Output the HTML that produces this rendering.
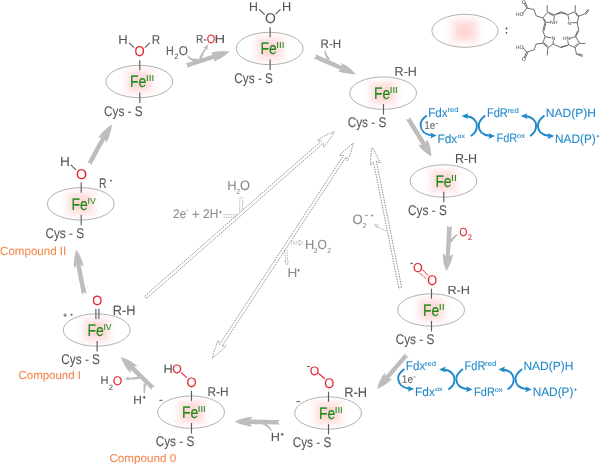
<!DOCTYPE html>
<html><head><meta charset="utf-8"><style>
html,body{margin:0;padding:0;background:#fff;width:600px;height:464px;overflow:hidden}
svg{display:block;will-change:transform}
text{font-family:"Liberation Sans",sans-serif;text-rendering:geometricPrecision}
</style></head><body>
<svg width="600" height="464" viewBox="0 0 600 464">
<defs>
<clipPath id="ec"><ellipse cx="0" cy="0" rx="33.4" ry="16.2"/></clipPath>
<filter id="bl" x="-100%" y="-100%" width="300%" height="300%"><feGaussianBlur stdDeviation="5"/></filter>
<linearGradient id="gt" gradientUnits="userSpaceOnUse" x1="0" y1="0" x2="0" y2="-18"><stop offset="0" stop-color="#ffcaca"/><stop offset="0.45" stop-color="#ffe0e0"/><stop offset="1" stop-color="#fff" stop-opacity="0"/></linearGradient>
<linearGradient id="gb" gradientUnits="userSpaceOnUse" x1="0" y1="0" x2="0" y2="18" href="#gt"/>
<linearGradient id="gl" gradientUnits="userSpaceOnUse" x1="0" y1="0" x2="-20.5" y2="0" href="#gt"/>
<linearGradient id="gr" gradientUnits="userSpaceOnUse" x1="0" y1="0" x2="20.5" y2="0" href="#gt"/>
<filter id="b2" x="-30%" y="-30%" width="160%" height="160%"><feGaussianBlur stdDeviation="2.4"/></filter>
<g id="pk" filter="url(#b2)"><path d="M0,0 L-20.5,-18 L20.5,-18Z" fill="url(#gt)"/><path d="M0,0 L20.5,18 L-20.5,18Z" fill="url(#gb)"/><path d="M0,0 L-20.5,18 L-20.5,-18Z" fill="url(#gl)"/><path d="M0,0 L20.5,-18 L20.5,18Z" fill="url(#gr)"/></g>
</defs>
<g clip-path="url(#ec)" transform="translate(139.35,81.5)"><use href="#pk"/></g>
<ellipse cx="139.35" cy="81.5" rx="33.4" ry="16.2" fill="none" stroke="#a8a8a8" stroke-width="0.9"/>
<text x="130.1" y="87.3" font-size="16.59" fill="#1a8c1a" textLength="16.3" lengthAdjust="spacingAndGlyphs" stroke="#1a8c1a" stroke-width="0.15">Fe</text>
<text x="146.0" y="81.3" font-size="8.84" fill="#1a8c1a" textLength="8.1" lengthAdjust="spacingAndGlyphs" stroke="#1a8c1a" stroke-width="0.05">III</text>
<line x1="139.8" y1="92.4" x2="139.8" y2="102.9" stroke="#5c5c5c" stroke-width="1.15"/>
<text x="104.0" y="115.7" font-size="14.14" fill="#555555" textLength="38.7" lengthAdjust="spacingAndGlyphs" stroke="#555555" stroke-width="0.08">Cys - S</text>
<line x1="139.8" y1="60.2" x2="139.8" y2="70.3" stroke="#5c5c5c" stroke-width="1.15"/>
<g clip-path="url(#ec)" transform="translate(269.7,48.5)"><use href="#pk"/></g>
<ellipse cx="269.7" cy="48.5" rx="33.4" ry="16.2" fill="none" stroke="#a8a8a8" stroke-width="0.9"/>
<text x="260.5" y="54.4" font-size="16.59" fill="#1a8c1a" textLength="16.3" lengthAdjust="spacingAndGlyphs" stroke="#1a8c1a" stroke-width="0.15">Fe</text>
<text x="276.3" y="48.3" font-size="8.84" fill="#1a8c1a" textLength="8.1" lengthAdjust="spacingAndGlyphs" stroke="#1a8c1a" stroke-width="0.05">III</text>
<line x1="270.1" y1="59.4" x2="270.1" y2="69.9" stroke="#5c5c5c" stroke-width="1.15"/>
<text x="234.3" y="82.7" font-size="14.14" fill="#555555" textLength="38.7" lengthAdjust="spacingAndGlyphs" stroke="#555555" stroke-width="0.08">Cys - S</text>
<line x1="270.1" y1="27.2" x2="270.1" y2="37.3" stroke="#5c5c5c" stroke-width="1.15"/>
<g clip-path="url(#ec)" transform="translate(383.1,93.15)"><use href="#pk"/></g>
<ellipse cx="383.1" cy="93.15" rx="33.4" ry="16.2" fill="none" stroke="#a8a8a8" stroke-width="0.9"/>
<text x="373.9" y="99.0" font-size="16.59" fill="#1a8c1a" textLength="16.3" lengthAdjust="spacingAndGlyphs" stroke="#1a8c1a" stroke-width="0.15">Fe</text>
<text x="389.7" y="93.0" font-size="8.84" fill="#1a8c1a" textLength="8.1" lengthAdjust="spacingAndGlyphs" stroke="#1a8c1a" stroke-width="0.05">III</text>
<line x1="383.5" y1="104.1" x2="383.5" y2="114.6" stroke="#5c5c5c" stroke-width="1.15"/>
<text x="347.7" y="127.4" font-size="14.14" fill="#555555" textLength="38.7" lengthAdjust="spacingAndGlyphs" stroke="#555555" stroke-width="0.08">Cys - S</text>
<g clip-path="url(#ec)" transform="translate(443.45,180.95)"><use href="#pk"/></g>
<ellipse cx="443.45" cy="180.95" rx="33.4" ry="16.2" fill="none" stroke="#a8a8a8" stroke-width="0.9"/>
<text x="435.4" y="186.8" font-size="16.59" fill="#1a8c1a" textLength="16.2" lengthAdjust="spacingAndGlyphs" stroke="#1a8c1a" stroke-width="0.15">Fe</text>
<text x="451.1" y="180.8" font-size="8.84" fill="#1a8c1a" textLength="5.9" lengthAdjust="spacingAndGlyphs" stroke="#1a8c1a" stroke-width="0.05">II</text>
<line x1="443.8" y1="191.8" x2="443.8" y2="202.3" stroke="#5c5c5c" stroke-width="1.15"/>
<text x="408.1" y="215.1" font-size="14.14" fill="#555555" textLength="38.7" lengthAdjust="spacingAndGlyphs" stroke="#555555" stroke-width="0.08">Cys - S</text>
<g clip-path="url(#ec)" transform="translate(431.1,310.0)"><use href="#pk"/></g>
<ellipse cx="431.1" cy="310.0" rx="33.4" ry="16.2" fill="none" stroke="#a8a8a8" stroke-width="0.9"/>
<text x="423.1" y="315.9" font-size="16.59" fill="#1a8c1a" textLength="16.2" lengthAdjust="spacingAndGlyphs" stroke="#1a8c1a" stroke-width="0.15">Fe</text>
<text x="438.7" y="309.8" font-size="8.84" fill="#1a8c1a" textLength="5.9" lengthAdjust="spacingAndGlyphs" stroke="#1a8c1a" stroke-width="0.05">II</text>
<line x1="431.5" y1="320.9" x2="431.5" y2="331.4" stroke="#5c5c5c" stroke-width="1.15"/>
<text x="395.7" y="344.2" font-size="14.14" fill="#555555" textLength="38.7" lengthAdjust="spacingAndGlyphs" stroke="#555555" stroke-width="0.08">Cys - S</text>
<line x1="431.5" y1="288.7" x2="431.5" y2="298.8" stroke="#5c5c5c" stroke-width="1.15"/>
<g clip-path="url(#ec)" transform="translate(328.1,413.0)"><use href="#pk"/></g>
<ellipse cx="328.1" cy="413.0" rx="33.4" ry="16.2" fill="none" stroke="#a8a8a8" stroke-width="0.9"/>
<text x="318.9" y="418.9" font-size="16.59" fill="#1a8c1a" textLength="16.3" lengthAdjust="spacingAndGlyphs" stroke="#1a8c1a" stroke-width="0.15">Fe</text>
<text x="334.7" y="412.8" font-size="8.84" fill="#1a8c1a" textLength="8.1" lengthAdjust="spacingAndGlyphs" stroke="#1a8c1a" stroke-width="0.05">III</text>
<line x1="328.5" y1="423.9" x2="328.5" y2="434.4" stroke="#5c5c5c" stroke-width="1.15"/>
<text x="292.7" y="447.2" font-size="14.14" fill="#555555" textLength="38.7" lengthAdjust="spacingAndGlyphs" stroke="#555555" stroke-width="0.08">Cys - S</text>
<line x1="328.5" y1="391.7" x2="328.5" y2="401.8" stroke="#5c5c5c" stroke-width="1.15"/>
<g clip-path="url(#ec)" transform="translate(191.1,412.15)"><use href="#pk"/></g>
<ellipse cx="191.1" cy="412.15" rx="33.4" ry="16.2" fill="none" stroke="#a8a8a8" stroke-width="0.9"/>
<text x="181.9" y="418.0" font-size="16.59" fill="#1a8c1a" textLength="16.3" lengthAdjust="spacingAndGlyphs" stroke="#1a8c1a" stroke-width="0.15">Fe</text>
<text x="197.7" y="411.9" font-size="8.84" fill="#1a8c1a" textLength="8.1" lengthAdjust="spacingAndGlyphs" stroke="#1a8c1a" stroke-width="0.05">III</text>
<line x1="191.5" y1="423.0" x2="191.5" y2="433.5" stroke="#5c5c5c" stroke-width="1.15"/>
<text x="155.7" y="446.3" font-size="14.14" fill="#555555" textLength="38.7" lengthAdjust="spacingAndGlyphs" stroke="#555555" stroke-width="0.08">Cys - S</text>
<line x1="191.5" y1="390.8" x2="191.5" y2="400.9" stroke="#5c5c5c" stroke-width="1.15"/>
<g clip-path="url(#ec)" transform="translate(96.7,330.0)"><use href="#pk"/></g>
<ellipse cx="96.7" cy="330.0" rx="33.4" ry="16.2" fill="none" stroke="#a8a8a8" stroke-width="0.9"/>
<text x="87.5" y="335.9" font-size="16.59" fill="#1a8c1a" textLength="16.3" lengthAdjust="spacingAndGlyphs" stroke="#1a8c1a" stroke-width="0.15">Fe</text>
<text x="103.4" y="329.8" font-size="8.84" fill="#1a8c1a" textLength="8.2" lengthAdjust="spacingAndGlyphs" stroke="#1a8c1a" stroke-width="0.05">IV</text>
<line x1="97.1" y1="340.9" x2="97.1" y2="351.4" stroke="#5c5c5c" stroke-width="1.15"/>
<text x="61.3" y="364.2" font-size="14.14" fill="#555555" textLength="38.7" lengthAdjust="spacingAndGlyphs" stroke="#555555" stroke-width="0.08">Cys - S</text>
<g clip-path="url(#ec)" transform="translate(80.8,203.85)"><use href="#pk"/></g>
<ellipse cx="80.8" cy="203.85" rx="33.4" ry="16.2" fill="none" stroke="#a8a8a8" stroke-width="0.9"/>
<text x="71.6" y="209.7" font-size="16.59" fill="#1a8c1a" textLength="16.3" lengthAdjust="spacingAndGlyphs" stroke="#1a8c1a" stroke-width="0.15">Fe</text>
<text x="87.5" y="203.7" font-size="8.84" fill="#1a8c1a" textLength="8.2" lengthAdjust="spacingAndGlyphs" stroke="#1a8c1a" stroke-width="0.05">IV</text>
<line x1="81.2" y1="214.8" x2="81.2" y2="225.2" stroke="#5c5c5c" stroke-width="1.15"/>
<text x="45.4" y="238.1" font-size="14.14" fill="#555555" textLength="38.7" lengthAdjust="spacingAndGlyphs" stroke="#555555" stroke-width="0.08">Cys - S</text>
<line x1="81.2" y1="182.5" x2="81.2" y2="192.7" stroke="#5c5c5c" stroke-width="1.15"/>
<text x="118.3" y="43.8" font-size="12.75" fill="#555555" textLength="9.4" lengthAdjust="spacingAndGlyphs" stroke="#555555" stroke-width="0.08">H</text>
<text x="151.8" y="43.8" font-size="12.75" fill="#555555" textLength="8.4" lengthAdjust="spacingAndGlyphs" stroke="#555555" stroke-width="0.08">R</text>
<text x="134.4" y="56.4" font-size="14.29" fill="#e2242b" textLength="10.2" lengthAdjust="spacingAndGlyphs" stroke="#e2242b" stroke-width="0.08">O</text>
<line x1="129.1" y1="42.8" x2="134.0" y2="47.7" stroke="#5c5c5c" stroke-width="1.15"/>
<line x1="144.9" y1="47.7" x2="149.8" y2="42.9" stroke="#5c5c5c" stroke-width="1.15"/>
<text x="249.0" y="10.5" font-size="12.75" fill="#555555" textLength="8.9" lengthAdjust="spacingAndGlyphs" stroke="#555555" stroke-width="0.08">H</text>
<text x="281.9" y="10.5" font-size="12.75" fill="#555555" textLength="9.2" lengthAdjust="spacingAndGlyphs" stroke="#555555" stroke-width="0.08">H</text>
<text x="265.1" y="23.3" font-size="14.14" fill="#555555" textLength="10.8" lengthAdjust="spacingAndGlyphs" stroke="#555555" stroke-width="0.08">O</text>
<line x1="259.2" y1="9.3" x2="264.7" y2="14.7" stroke="#5c5c5c" stroke-width="1.15"/>
<line x1="275.6" y1="14.2" x2="280.5" y2="9.3" stroke="#5c5c5c" stroke-width="1.15"/>
<text x="394.6" y="75.5" font-size="13.04" fill="#555555" textLength="22.3" lengthAdjust="spacingAndGlyphs" stroke="#555555" stroke-width="0.08">R-H</text>
<text x="454.9" y="163.4" font-size="13.19" fill="#555555" textLength="22.2" lengthAdjust="spacingAndGlyphs" stroke="#555555" stroke-width="0.08">R-H</text>
<text x="413.0" y="271.6" font-size="12.86" fill="#e2242b" textLength="9.7" lengthAdjust="spacingAndGlyphs" stroke="#e2242b" stroke-width="0.08">O</text>
<text x="427.2" y="284.8" font-size="14.0" fill="#e2242b" textLength="9.9" lengthAdjust="spacingAndGlyphs" stroke="#e2242b" stroke-width="0.08">O</text>
<line x1="410.2" y1="263.3" x2="413.0" y2="263.3" stroke="#555555" stroke-width="1.0"/>
<line x1="422.2" y1="269.4" x2="428.2" y2="275.6" stroke="#e2242b" stroke-width="1.0"/>
<line x1="419.6" y1="273.0" x2="426.0" y2="278.6" stroke="#e2242b" stroke-width="1.1" stroke-dasharray="0.9 1.0"/>
<text x="447.4" y="293.7" font-size="11.74" fill="#555555" textLength="22.6" lengthAdjust="spacingAndGlyphs" stroke="#555555" stroke-width="0.08">R-H</text>
<text x="309.7" y="374.6" font-size="12.29" fill="#e2242b" textLength="9.5" lengthAdjust="spacingAndGlyphs" stroke="#e2242b" stroke-width="0.08">O</text>
<text x="324.3" y="387.8" font-size="14.0" fill="#e2242b" textLength="10.0" lengthAdjust="spacingAndGlyphs" stroke="#e2242b" stroke-width="0.08">O</text>
<line x1="307.1" y1="366.5" x2="309.7" y2="366.5" stroke="#555555" stroke-width="1.0"/>
<line x1="318.3" y1="373.3" x2="324.9" y2="378.7" stroke="#e2242b" stroke-width="1.1"/>
<text x="344.3" y="396.7" font-size="13.62" fill="#555555" textLength="22.8" lengthAdjust="spacingAndGlyphs" stroke="#555555" stroke-width="0.08">R-H</text>
<line x1="296.4" y1="401.6" x2="300.0" y2="401.6" stroke="#555555" stroke-width="1.0"/>
<text x="163.4" y="373.1" font-size="12.17" fill="#555555" textLength="9.3" lengthAdjust="spacingAndGlyphs" stroke="#555555" stroke-width="0.08">H</text>
<text x="172.3" y="373.3" font-size="12.29" fill="#e2242b" textLength="9.5" lengthAdjust="spacingAndGlyphs" stroke="#e2242b" stroke-width="0.08">O</text>
<text x="186.5" y="386.7" font-size="13.71" fill="#e2242b" textLength="10.1" lengthAdjust="spacingAndGlyphs" stroke="#e2242b" stroke-width="0.08">O</text>
<line x1="181.3" y1="372.7" x2="186.7" y2="377.6" stroke="#e2242b" stroke-width="1.1"/>
<text x="207.4" y="396.0" font-size="12.61" fill="#555555" textLength="21.1" lengthAdjust="spacingAndGlyphs" stroke="#555555" stroke-width="0.08">R-H</text>
<line x1="159.3" y1="400.3" x2="162.7" y2="400.3" stroke="#555555" stroke-width="1.0"/>
<text x="92.3" y="304.7" font-size="13.43" fill="#e2242b" textLength="10.0" lengthAdjust="spacingAndGlyphs" stroke="#e2242b" stroke-width="0.08">O</text>
<line x1="95.9" y1="308.7" x2="95.9" y2="319.0" stroke="#5c5c5c" stroke-width="1.15"/>
<line x1="98.9" y1="308.7" x2="98.9" y2="319.0" stroke="#5c5c5c" stroke-width="1.15"/>
<text x="112.7" y="314.7" font-size="13.62" fill="#555555" textLength="22.7" lengthAdjust="spacingAndGlyphs" stroke="#555555" stroke-width="0.08">R-H</text>
<line x1="63.4" y1="315.2" x2="66.8" y2="315.2" stroke="#555555" stroke-width="0.9"/>
<line x1="65.1" y1="313.5" x2="65.1" y2="316.9" stroke="#555555" stroke-width="0.9"/>
<circle cx="71.6" cy="314.8" r="0.95" fill="#555555"/>
<text x="60.0" y="165.8" font-size="12.97" fill="#555555" textLength="9.9" lengthAdjust="spacingAndGlyphs" stroke="#555555" stroke-width="0.08">H</text>
<text x="76.0" y="179.2" font-size="14.14" fill="#e2242b" textLength="11.0" lengthAdjust="spacingAndGlyphs" stroke="#e2242b" stroke-width="0.08">O</text>
<line x1="70.8" y1="164.9" x2="76.0" y2="169.8" stroke="#5c5c5c" stroke-width="1.15"/>
<text x="99.1" y="188.3" font-size="14.06" fill="#555555" textLength="7.5" lengthAdjust="spacingAndGlyphs" stroke="#555555" stroke-width="0.08">R</text>
<circle cx="111" cy="180.6" r="0.95" fill="#555555"/>
<text x="0.1" y="255.0" font-size="11.86" fill="#f5874f" textLength="66.2" lengthAdjust="spacingAndGlyphs" stroke="#f5874f" stroke-width="0.08">Compound II</text>
<text x="18.5" y="379.0" font-size="11.43" fill="#f5874f" textLength="62.5" lengthAdjust="spacingAndGlyphs" stroke="#f5874f" stroke-width="0.08">Compound I</text>
<text x="109.4" y="461.7" font-size="11.43" fill="#f5874f" textLength="66.8" lengthAdjust="spacingAndGlyphs" stroke="#f5874f" stroke-width="0.08">Compound 0</text>
<path d="M187.61,65.19 L186.57,67.79 L189.25,66.92 L191.80,66.09 L194.23,65.29 L196.54,64.54 L198.73,63.83 L200.80,63.15 L202.74,62.52 L204.56,61.93 L206.25,61.37 L207.83,60.86 L209.28,60.39 L210.61,59.96 L211.82,59.56 L212.90,59.21 L213.87,58.90 L214.71,58.63 L213.39,61.69 Q222.16,58.42 229.70,51.40 Q219.47,50.20 210.47,52.76 L213.34,54.45 L212.50,54.72 L211.54,55.04 L210.45,55.40 L209.25,55.80 L207.92,56.24 L206.47,56.72 L204.90,57.23 L203.20,57.79 L201.39,58.39 L199.44,59.03 L197.38,59.71 L195.20,60.43 L192.89,61.19 L190.46,61.99 L187.91,62.83 L185.23,63.71 Z" fill="#bdbdbd"/>
<path d="M187.10,55.94 L187.49,56.62 L187.93,57.29 L188.42,57.93 L188.97,58.54 L189.58,59.11 L190.25,59.64 L190.99,60.12 L191.79,60.54 L192.67,60.91 L193.62,61.21 L194.63,61.44 L195.72,61.60 L196.88,61.69 L198.07,61.70 L197.93,58.70 L196.84,58.81 L195.86,58.86 L194.96,58.84 L194.11,58.77 L193.33,58.64 L192.60,58.46 L191.91,58.23 L191.27,57.95 L190.67,57.63 L190.09,57.25 L189.55,56.82 L189.04,56.35 L188.56,55.84 L188.10,55.26 Z" fill="#bdbdbd"/>
<path d="M205.80,47.39 L205.19,48.06 L204.61,48.75 L204.05,49.46 L203.52,50.18 L203.01,50.92 L202.52,51.68 L202.05,52.46 L201.59,53.26 L201.15,54.07 L200.71,54.91 L200.28,55.78 L199.85,56.66 L199.42,57.58 L198.99,58.51 L201.41,59.49 L201.74,58.52 L202.08,57.60 L202.41,56.70 L202.74,55.83 L203.08,54.98 L203.42,54.16 L203.78,53.37 L204.14,52.59 L204.53,51.83 L204.93,51.08 L205.36,50.35 L205.81,49.63 L206.29,48.92 L206.80,48.21 Z" fill="#bdbdbd"/>
<path d="M208.10,44.20 L207.33,50.21 L205.93,48.03 L203.33,47.93 Z" fill="#bdbdbd"/>
<text x="165.9" y="54.5" font-size="12.61" fill="#555555" textLength="7.7" lengthAdjust="spacingAndGlyphs" stroke="#555555" stroke-width="0.08">H</text>
<text x="174.5" y="58.6" font-size="7.71" fill="#555555" textLength="3.8" lengthAdjust="spacingAndGlyphs" stroke="#555555" stroke-width="0.08">2</text>
<text x="178.8" y="54.5" font-size="12.71" fill="#555555" textLength="9.2" lengthAdjust="spacingAndGlyphs" stroke="#555555" stroke-width="0.08">O</text>
<text x="196.0" y="42.8" font-size="11.74" fill="#555555" textLength="10.6" lengthAdjust="spacingAndGlyphs" stroke="#555555" stroke-width="0.08">R-</text>
<text x="206.8" y="43.0" font-size="12.14" fill="#e2242b" textLength="8.5" lengthAdjust="spacingAndGlyphs" stroke="#e2242b" stroke-width="0.08">O</text>
<text x="214.6" y="42.8" font-size="11.74" fill="#555555" textLength="10.6" lengthAdjust="spacingAndGlyphs" stroke="#555555" stroke-width="0.08">H</text>
<path d="M316.00,56.97 L313.44,58.36 L315.97,59.45 L318.40,60.48 L320.71,61.47 L322.91,62.41 L325.00,63.30 L326.97,64.14 L328.83,64.93 L330.58,65.67 L332.21,66.37 L333.73,67.01 L335.13,67.61 L336.43,68.15 L337.61,68.65 L338.67,69.10 L339.63,69.50 L340.47,69.85 L337.45,71.27 Q345.86,74.51 355.80,74.20 Q349.22,66.74 341.11,62.83 L342.14,65.99 L341.31,65.62 L340.36,65.20 L339.31,64.73 L338.14,64.21 L336.85,63.64 L335.46,63.02 L333.95,62.35 L332.32,61.64 L330.59,60.87 L328.74,60.06 L326.78,59.19 L324.70,58.28 L322.51,57.32 L320.21,56.31 L317.79,55.25 L315.26,54.14 Z" fill="#bdbdbd"/>
<path d="M324.35,50.67 L324.38,51.40 L324.43,52.13 L324.51,52.84 L324.62,53.54 L324.76,54.24 L324.94,54.93 L325.16,55.61 L325.42,56.29 L325.73,56.98 L326.08,57.66 L326.48,58.34 L326.92,59.03 L327.42,59.73 L327.94,60.42 L330.06,58.58 L329.48,58.00 L328.97,57.45 L328.50,56.91 L328.08,56.38 L327.69,55.85 L327.35,55.32 L327.04,54.79 L326.76,54.24 L326.51,53.69 L326.29,53.11 L326.09,52.51 L325.92,51.88 L325.77,51.23 L325.65,50.53 Z" fill="#bdbdbd"/>
<text x="320.6" y="47.7" font-size="12.46" fill="#555555" textLength="20.5" lengthAdjust="spacingAndGlyphs" stroke="#555555" stroke-width="0.08">R-H</text>
<path d="M408.74,119.48 L405.88,119.13 L407.32,121.47 L408.70,123.73 L410.02,125.88 L411.28,127.94 L412.49,129.90 L413.63,131.77 L414.71,133.54 L415.74,135.21 L416.70,136.79 L417.61,138.26 L418.46,139.65 L419.25,140.93 L419.97,142.12 L420.64,143.22 L421.25,144.21 L421.81,145.11 L418.06,144.83 Q422.78,151.73 431.30,156.30 Q431.09,146.63 427.09,139.29 L425.64,142.76 L425.09,141.86 L424.48,140.86 L423.81,139.77 L423.08,138.58 L422.29,137.30 L421.45,135.91 L420.54,134.43 L419.57,132.86 L418.55,131.19 L417.47,129.42 L416.32,127.55 L415.12,125.59 L413.86,123.53 L412.54,121.37 L411.16,119.12 L409.72,116.77 Z" fill="#bdbdbd"/>
<path d="M449.41,227.40 L447.10,225.48 L446.99,228.28 L446.88,230.96 L446.77,233.51 L446.67,235.95 L446.57,238.26 L446.47,240.46 L446.38,242.53 L446.29,244.48 L446.21,246.31 L446.12,248.01 L446.05,249.60 L445.97,251.06 L445.90,252.40 L445.83,253.62 L445.77,254.71 L445.71,255.69 L442.78,253.20 Q442.36,262.05 446.20,271.30 Q451.70,262.93 452.94,254.16 L449.59,256.05 L449.71,255.06 L449.83,253.94 L449.96,252.71 L450.09,251.36 L450.22,249.88 L450.35,248.29 L450.49,246.58 L450.63,244.74 L450.78,242.79 L450.93,240.71 L451.08,238.52 L451.24,236.20 L451.40,233.76 L451.56,231.20 L451.73,228.52 L451.90,225.72 Z" fill="#bdbdbd"/>
<path d="M457.12,233.88 L456.55,234.23 L455.97,234.59 L455.40,234.98 L454.83,235.38 L454.26,235.81 L453.69,236.26 L453.13,236.75 L452.57,237.26 L452.02,237.80 L451.47,238.38 L450.94,239.00 L450.41,239.66 L449.89,240.36 L449.40,241.08 L451.80,242.52 L452.18,241.78 L452.55,241.11 L452.94,240.46 L453.34,239.85 L453.74,239.27 L454.16,238.71 L454.60,238.18 L455.04,237.67 L455.49,237.17 L455.95,236.70 L456.42,236.24 L456.90,235.79 L457.39,235.35 L457.88,234.92 Z" fill="#bdbdbd"/>
<text x="459.3" y="235.7" font-size="11.71" fill="#e2242b" textLength="8.2" lengthAdjust="spacingAndGlyphs" stroke="#e2242b" stroke-width="0.08">O</text>
<text x="468.1" y="240.0" font-size="8.0" fill="#e2242b" textLength="3.9" lengthAdjust="spacingAndGlyphs" stroke="#e2242b" stroke-width="0.08">2</text>
<path d="M405.82,355.86 L405.34,353.06 L403.50,355.18 L401.75,357.20 L400.07,359.13 L398.47,360.98 L396.95,362.73 L395.52,364.39 L394.16,365.95 L392.88,367.43 L391.68,368.82 L390.55,370.11 L389.51,371.31 L388.55,372.42 L387.67,373.44 L386.86,374.37 L386.14,375.20 L385.49,375.95 L384.97,372.58 Q379.46,379.52 377.00,389.10 Q386.13,385.31 392.22,378.87 L388.82,378.83 L389.46,378.09 L390.19,377.25 L390.99,376.32 L391.87,375.30 L392.84,374.19 L393.88,372.99 L395.00,371.70 L396.20,370.31 L397.48,368.84 L398.84,367.27 L400.28,365.61 L401.80,363.86 L403.39,362.02 L405.07,360.08 L406.83,358.06 L408.66,355.94 Z" fill="#bdbdbd"/>
<path d="M277.95,422.27 L279.79,420.10 L277.03,420.05 L274.39,419.99 L271.88,419.94 L269.48,419.89 L267.21,419.85 L265.07,419.80 L263.04,419.76 L261.14,419.72 L259.36,419.68 L257.70,419.65 L256.17,419.61 L254.76,419.58 L253.47,419.55 L252.30,419.53 L251.26,419.50 L250.34,419.48 L252.58,417.02 Q243.63,417.24 234.60,421.50 Q243.47,426.07 252.41,426.62 L250.26,424.08 L251.18,424.09 L252.22,424.10 L253.39,424.11 L254.68,424.13 L256.09,424.15 L257.62,424.17 L259.28,424.19 L261.06,424.22 L262.96,424.25 L264.99,424.28 L267.13,424.31 L269.40,424.34 L271.80,424.38 L274.31,424.42 L276.95,424.46 L279.71,424.50 Z" fill="#bdbdbd"/>
<path d="M271.86,430.48 L271.51,429.75 L271.11,429.03 L270.70,428.34 L270.25,427.68 L269.77,427.04 L269.27,426.42 L268.74,425.83 L268.17,425.25 L267.58,424.70 L266.96,424.16 L266.30,423.64 L265.62,423.14 L264.91,422.65 L264.18,422.18 L262.82,424.62 L263.56,424.98 L264.26,425.33 L264.93,425.70 L265.57,426.08 L266.18,426.48 L266.77,426.89 L267.34,427.32 L267.88,427.78 L268.41,428.26 L268.91,428.77 L269.39,429.30 L269.86,429.87 L270.30,430.47 L270.74,431.12 Z" fill="#bdbdbd"/>
<text x="270.8" y="440.6" font-size="12.03" fill="#555555" textLength="9.2" lengthAdjust="spacingAndGlyphs" stroke="#555555" stroke-width="0.08">H</text>
<line x1="280.7" y1="434.3" x2="283.7" y2="434.3" stroke="#555555" stroke-width="0.95"/>
<line x1="282.2" y1="432.8" x2="282.2" y2="435.8" stroke="#555555" stroke-width="0.95"/>
<path d="M152.21,387.25 L155.03,386.92 L153.04,384.99 L151.14,383.15 L149.33,381.39 L147.62,379.72 L145.99,378.14 L144.45,376.64 L143.00,375.23 L141.64,373.91 L140.37,372.68 L139.19,371.53 L138.10,370.47 L137.10,369.49 L136.19,368.61 L135.37,367.80 L134.64,367.09 L134.00,366.46 L137.46,366.05 Q130.64,360.02 120.90,357.00 Q124.25,366.63 130.51,373.24 L130.81,369.77 L131.46,370.39 L132.19,371.09 L133.02,371.89 L133.94,372.76 L134.95,373.73 L136.05,374.78 L137.24,375.92 L138.51,377.15 L139.88,378.46 L141.34,379.86 L142.89,381.35 L144.52,382.92 L146.25,384.58 L148.07,386.33 L149.97,388.16 L151.97,390.08 Z" fill="#bdbdbd"/>
<path d="M127.82,379.40 L128.52,379.43 L129.25,379.45 L130.00,379.47 L130.78,379.48 L131.58,379.48 L132.40,379.47 L133.25,379.46 L134.12,379.43 L135.01,379.39 L135.91,379.34 L136.84,379.28 L137.79,379.19 L138.76,379.10 L139.73,378.98 L139.27,376.22 L138.33,376.43 L137.41,376.62 L136.51,376.80 L135.63,376.96 L134.76,377.11 L133.91,377.24 L133.08,377.37 L132.26,377.48 L131.46,377.58 L130.68,377.68 L129.92,377.77 L129.19,377.85 L128.47,377.93 L127.78,378.00 Z" fill="#bdbdbd"/>
<path d="M124.40,378.70 L129.15,376.50 L128.00,378.62 L129.24,380.70 Z" fill="#bdbdbd"/>
<path d="M145.10,393.20 L145.14,392.52 L145.19,391.85 L145.24,391.18 L145.30,390.51 L145.36,389.84 L145.42,389.17 L145.49,388.50 L145.56,387.83 L145.63,387.15 L145.72,386.46 L145.80,385.77 L145.89,385.06 L145.99,384.34 L146.10,383.61 L143.50,383.39 L143.49,384.14 L143.47,384.88 L143.46,385.61 L143.46,386.33 L143.47,387.03 L143.47,387.73 L143.49,388.42 L143.51,389.11 L143.53,389.79 L143.56,390.47 L143.59,391.15 L143.62,391.83 L143.66,392.51 L143.70,393.20 Z" fill="#bdbdbd"/>
<text x="100.4" y="384.3" font-size="11.3" fill="#555555" textLength="8.0" lengthAdjust="spacingAndGlyphs" stroke="#555555" stroke-width="0.08">H</text>
<text x="108.8" y="389.5" font-size="7.86" fill="#555555" textLength="4.2" lengthAdjust="spacingAndGlyphs" stroke="#555555" stroke-width="0.08">2</text>
<text x="112.8" y="384.9" font-size="12.57" fill="#e2242b" textLength="9.5" lengthAdjust="spacingAndGlyphs" stroke="#e2242b" stroke-width="0.08">O</text>
<text x="133.2" y="403.8" font-size="11.88" fill="#555555" textLength="8.6" lengthAdjust="spacingAndGlyphs" stroke="#555555" stroke-width="0.08">H</text>
<line x1="142.7" y1="397.3" x2="145.7" y2="397.3" stroke="#555555" stroke-width="0.95"/>
<line x1="144.2" y1="395.8" x2="144.2" y2="398.8" stroke="#555555" stroke-width="0.95"/>
<path d="M83.92,292.44 L86.55,293.72 L85.97,291.02 L85.41,288.44 L84.89,285.97 L84.39,283.63 L83.93,281.41 L83.49,279.30 L83.09,277.31 L82.71,275.45 L82.36,273.70 L82.04,272.07 L81.76,270.56 L81.50,269.17 L81.27,267.91 L81.07,266.76 L80.90,265.74 L80.76,264.84 L83.74,266.64 Q82.11,257.88 76.40,249.70 Q73.18,259.14 74.04,268.01 L76.40,265.45 L76.54,266.41 L76.70,267.48 L76.89,268.66 L77.12,269.96 L77.37,271.37 L77.65,272.90 L77.96,274.55 L78.29,276.32 L78.66,278.20 L79.06,280.20 L79.48,282.32 L79.94,284.55 L80.42,286.91 L80.94,289.38 L81.48,291.97 L82.05,294.68 Z" fill="#bdbdbd"/>
<path d="M90.09,162.66 L91.20,165.28 L92.52,162.80 L93.78,160.43 L94.98,158.18 L96.13,156.05 L97.22,154.03 L98.24,152.14 L99.21,150.36 L100.12,148.70 L100.98,147.15 L101.77,145.72 L102.50,144.41 L103.18,143.22 L103.80,142.15 L104.35,141.20 L104.85,140.37 L105.28,139.66 L106.27,142.84 Q110.86,134.57 112.00,124.20 Q103.31,129.97 98.07,137.85 L101.35,137.27 L100.90,138.03 L100.40,138.90 L99.83,139.89 L99.22,140.99 L98.54,142.20 L97.81,143.53 L97.02,144.98 L96.17,146.54 L95.27,148.22 L94.31,150.01 L93.28,151.92 L92.20,153.95 L91.07,156.09 L89.87,158.35 L88.62,160.73 L87.30,163.22 Z" fill="#bdbdbd"/>
<path d="M146.69,298.33 L323.42,143.15 L323.72,147.28 Q329.11,140.95 334.30,131.60 Q324.36,135.54 317.38,140.07 L321.44,140.90 L144.71,296.07 Z" fill="none" stroke="#5e5e5e" stroke-width="0.7" stroke-dasharray="1.5 1.1"/>
<path d="M212.30,358.20 Q220.74,351.90 226.19,345.78 L222.05,346.06 L346.05,156.98 L347.44,160.88 Q350.88,153.45 353.30,143.20 Q344.86,149.50 339.41,155.62 L343.55,155.34 L219.55,344.42 L218.16,340.52 Q214.72,347.95 212.30,358.20 Z" fill="none" stroke="#5e5e5e" stroke-width="0.7" stroke-dasharray="1.5 1.1"/>
<path d="M401.67,287.51 L376.42,161.42 L380.24,163.21 Q377.54,155.95 372.10,147.50 Q370.33,157.39 370.63,165.13 L373.48,162.01 L398.73,288.09 Z" fill="none" stroke="#5e5e5e" stroke-width="0.7" stroke-dasharray="1.5 1.1"/>
<path d="M223.5,214.6 L237.5,214.8" fill="none" stroke="#7a7a7a" stroke-width="0.6" stroke-dasharray="1.4 1"/>
<path d="M223.5,217.2 L236,217.3" fill="none" stroke="#7a7a7a" stroke-width="0.6" stroke-dasharray="1.4 1"/>
<path d="M239.7,211.5 L239.7,199" fill="none" stroke="#7a7a7a" stroke-width="0.6" stroke-dasharray="1.4 1"/>
<path d="M242.5,209 L242.7,199" fill="none" stroke="#7a7a7a" stroke-width="0.6" stroke-dasharray="1.4 1"/>
<path d="M239.7,199 L241.2,196.8 L243.2,199" fill="none" stroke="#7a7a7a" stroke-width="0.6" stroke-dasharray="1.4 1"/>
<path d="M291,241.8 L300,241.8 L299,240 L303.2,242.8 L299,245.6 L300,243.8 L291,243.8" fill="none" stroke="#7a7a7a" stroke-width="0.6" stroke-dasharray="1.4 1"/>
<path d="M284.4,250 L285.8,262 L284.5,261.5 L287,265 L288.5,261.2 L287.6,261.8 L287,250" fill="none" stroke="#7a7a7a" stroke-width="0.6" stroke-dasharray="1.4 1"/>
<path d="M386,231 L377,226.5 L378,225 L374.5,224.2 L376.5,227.6 L377,226.5" fill="none" stroke="#7a7a7a" stroke-width="0.6" stroke-dasharray="1.4 1"/>
<text x="173.1" y="218.4" font-size="12.57" fill="#8a8a8a" textLength="13.2" lengthAdjust="spacingAndGlyphs" stroke="#8a8a8a" stroke-width="0.08">2e</text>
<line x1="186.7" y1="210.2" x2="188.2" y2="210.2" stroke="#8a8a8a" stroke-width="0.8"/>
<line x1="192.2" y1="214.3" x2="199.2" y2="214.3" stroke="#8a8a8a" stroke-width="1.0"/>
<line x1="195.7" y1="210.8" x2="195.7" y2="217.8" stroke="#8a8a8a" stroke-width="1.0"/>
<text x="203.0" y="218.4" font-size="12.57" fill="#8a8a8a" textLength="15.3" lengthAdjust="spacingAndGlyphs" stroke="#8a8a8a" stroke-width="0.08">2H</text>
<line x1="219.1" y1="212.0" x2="221.9" y2="212.0" stroke="#8a8a8a" stroke-width="0.95"/>
<line x1="220.5" y1="210.6" x2="220.5" y2="213.4" stroke="#8a8a8a" stroke-width="0.95"/>
<text x="227.2" y="190.0" font-size="13.04" fill="#8a8a8a" textLength="9.3" lengthAdjust="spacingAndGlyphs" stroke="#8a8a8a" stroke-width="0.08">H</text>
<text x="236.5" y="194.2" font-size="7.64" fill="#8a8a8a" textLength="3.7" lengthAdjust="spacingAndGlyphs" stroke="#8a8a8a" stroke-width="0.08">2</text>
<text x="240.0" y="190.2" font-size="13.57" fill="#8a8a8a" textLength="10.0" lengthAdjust="spacingAndGlyphs" stroke="#8a8a8a" stroke-width="0.08">O</text>
<text x="304.9" y="248.7" font-size="13.04" fill="#8a8a8a" textLength="9.3" lengthAdjust="spacingAndGlyphs" stroke="#8a8a8a" stroke-width="0.08">H</text>
<text x="313.8" y="253.1" font-size="7.43" fill="#8a8a8a" textLength="3.9" lengthAdjust="spacingAndGlyphs" stroke="#8a8a8a" stroke-width="0.08">2</text>
<text x="317.4" y="248.8" font-size="13.29" fill="#8a8a8a" textLength="9.4" lengthAdjust="spacingAndGlyphs" stroke="#8a8a8a" stroke-width="0.08">O</text>
<text x="327.2" y="253.1" font-size="7.43" fill="#8a8a8a" textLength="3.8" lengthAdjust="spacingAndGlyphs" stroke="#8a8a8a" stroke-width="0.08">2</text>
<text x="287.5" y="276.8" font-size="12.61" fill="#8a8a8a" textLength="9.8" lengthAdjust="spacingAndGlyphs" stroke="#8a8a8a" stroke-width="0.08">H</text>
<line x1="297.1" y1="270.3" x2="300.1" y2="270.3" stroke="#8a8a8a" stroke-width="0.95"/>
<line x1="298.6" y1="268.8" x2="298.6" y2="271.8" stroke="#8a8a8a" stroke-width="0.95"/>
<text x="352.4" y="224.0" font-size="13.57" fill="#8a8a8a" textLength="10.2" lengthAdjust="spacingAndGlyphs" stroke="#8a8a8a" stroke-width="0.08">O</text>
<text x="362.5" y="228.4" font-size="7.29" fill="#8a8a8a" textLength="3.9" lengthAdjust="spacingAndGlyphs" stroke="#8a8a8a" stroke-width="0.08">2</text>
<line x1="365.0" y1="215.4" x2="367.8" y2="215.4" stroke="#8a8a8a" stroke-width="0.9"/>
<circle cx="372.2" cy="215.5" r="1.0" fill="#8a8a8a"/>
<g transform="translate(0,0)">
<text x="428.2" y="116.7" font-size="12.69" fill="#1e88c8" textLength="19.5" lengthAdjust="spacingAndGlyphs" stroke="#1e88c8" stroke-width="0.08">Fdx</text>
<text x="447.4" y="112.2" font-size="7.03" fill="#1e88c8" textLength="11.1" lengthAdjust="spacingAndGlyphs" stroke="#1e88c8" stroke-width="0.08">red</text>
<text x="437.5" y="142.6" font-size="12.41" fill="#1e88c8" textLength="19.8" lengthAdjust="spacingAndGlyphs" stroke="#1e88c8" stroke-width="0.08">Fdx</text>
<text x="457.6" y="138.1" font-size="6.2" fill="#1e88c8" textLength="7.4" lengthAdjust="spacingAndGlyphs" stroke="#1e88c8" stroke-width="0.08">ox</text>
<text x="424.2" y="129.4" font-size="11.16" fill="#606060" textLength="11.2" lengthAdjust="spacingAndGlyphs" stroke="#606060" stroke-width="0.08">1e</text>
<line x1="435.8" y1="123.5" x2="438.0" y2="123.5" stroke="#606060" stroke-width="0.7"/>
<text x="486.9" y="116.7" font-size="12.55" fill="#1e88c8" textLength="20.9" lengthAdjust="spacingAndGlyphs" stroke="#1e88c8" stroke-width="0.08">FdR</text>
<text x="507.5" y="112.5" font-size="7.31" fill="#1e88c8" textLength="11.2" lengthAdjust="spacingAndGlyphs" stroke="#1e88c8" stroke-width="0.08">red</text>
<text x="496.5" y="142.4" font-size="12.14" fill="#1e88c8" textLength="20.8" lengthAdjust="spacingAndGlyphs" stroke="#1e88c8" stroke-width="0.08">FdR</text>
<text x="517.1" y="138.2" font-size="6.85" fill="#1e88c8" textLength="7.7" lengthAdjust="spacingAndGlyphs" stroke="#1e88c8" stroke-width="0.08">ox</text>
<text x="545.8" y="116.5" font-size="12.03" fill="#1e88c8" textLength="50.1" lengthAdjust="spacingAndGlyphs" stroke="#1e88c8" stroke-width="0.08">NAD(P)H</text>
<text x="555.1" y="142.5" font-size="12.32" fill="#1e88c8" textLength="40.7" lengthAdjust="spacingAndGlyphs" stroke="#1e88c8" stroke-width="0.08">NAD(P)</text>
<line x1="596.5" y1="136.2" x2="599.2" y2="136.2" stroke="#1e88c8" stroke-width="0.7"/>
<line x1="597.9" y1="134.8" x2="597.9" y2="137.5" stroke="#1e88c8" stroke-width="0.7"/>
<path d="M426.2,116 C421.5,119.5 420.3,123 420.6,125.5 C421,130.5 425,134.6 431.5,135.4" fill="none" stroke="#1e88c8" stroke-width="1.9" stroke-linecap="round"/>
<path d="M430.2,132.6 L436.6,135.6 L430.2,138.4 L431.6,135.5 Z" fill="#1e88c8"/>
<g transform="translate(0,0)">
<path d="M467.3,116.3 C472.5,117 476.8,120.5 476.9,125.5 C477,130 474.5,133.5 471.4,135.6" fill="none" stroke="#1e88c8" stroke-width="1.9" stroke-linecap="round"/>
<path d="M468.2,113.2 L461.5,116.1 L468.2,119.0 L466.9,116.2 Z" fill="#1e88c8"/>
<path d="M484.7,116 C481.5,118.5 478.6,121.5 478.7,125.7 C478.8,131.5 483,135 489.5,135.7" fill="none" stroke="#1e88c8" stroke-width="1.9" stroke-linecap="round"/>
<path d="M488.4,132.9 L495,136 L488.4,138.9 L489.8,135.8 Z" fill="#1e88c8"/>
</g>
<g transform="translate(59.2,0)">
<path d="M467.3,116.3 C472.5,117 476.8,120.5 476.9,125.5 C477,130 474.5,133.5 471.4,135.6" fill="none" stroke="#1e88c8" stroke-width="1.9" stroke-linecap="round"/>
<path d="M468.2,113.2 L461.5,116.1 L468.2,119.0 L466.9,116.2 Z" fill="#1e88c8"/>
<path d="M484.7,116 C481.5,118.5 478.6,121.5 478.7,125.7 C478.8,131.5 483,135 489.5,135.7" fill="none" stroke="#1e88c8" stroke-width="1.9" stroke-linecap="round"/>
<path d="M488.4,132.9 L495,136 L488.4,138.9 L489.8,135.8 Z" fill="#1e88c8"/>
</g>
</g>
<g transform="translate(-22.4,253.4)">
<text x="428.2" y="116.7" font-size="12.69" fill="#1e88c8" textLength="19.5" lengthAdjust="spacingAndGlyphs" stroke="#1e88c8" stroke-width="0.08">Fdx</text>
<text x="447.4" y="112.2" font-size="7.03" fill="#1e88c8" textLength="11.1" lengthAdjust="spacingAndGlyphs" stroke="#1e88c8" stroke-width="0.08">red</text>
<text x="437.5" y="142.6" font-size="12.41" fill="#1e88c8" textLength="19.8" lengthAdjust="spacingAndGlyphs" stroke="#1e88c8" stroke-width="0.08">Fdx</text>
<text x="457.6" y="138.1" font-size="6.2" fill="#1e88c8" textLength="7.4" lengthAdjust="spacingAndGlyphs" stroke="#1e88c8" stroke-width="0.08">ox</text>
<text x="424.2" y="129.4" font-size="11.16" fill="#606060" textLength="11.2" lengthAdjust="spacingAndGlyphs" stroke="#606060" stroke-width="0.08">1e</text>
<line x1="435.8" y1="123.5" x2="438.0" y2="123.5" stroke="#606060" stroke-width="0.7"/>
<text x="486.9" y="116.7" font-size="12.55" fill="#1e88c8" textLength="20.9" lengthAdjust="spacingAndGlyphs" stroke="#1e88c8" stroke-width="0.08">FdR</text>
<text x="507.5" y="112.5" font-size="7.31" fill="#1e88c8" textLength="11.2" lengthAdjust="spacingAndGlyphs" stroke="#1e88c8" stroke-width="0.08">red</text>
<text x="496.5" y="142.4" font-size="12.14" fill="#1e88c8" textLength="20.8" lengthAdjust="spacingAndGlyphs" stroke="#1e88c8" stroke-width="0.08">FdR</text>
<text x="517.1" y="138.2" font-size="6.85" fill="#1e88c8" textLength="7.7" lengthAdjust="spacingAndGlyphs" stroke="#1e88c8" stroke-width="0.08">ox</text>
<text x="545.8" y="116.5" font-size="12.03" fill="#1e88c8" textLength="50.1" lengthAdjust="spacingAndGlyphs" stroke="#1e88c8" stroke-width="0.08">NAD(P)H</text>
<text x="555.1" y="142.5" font-size="12.32" fill="#1e88c8" textLength="40.7" lengthAdjust="spacingAndGlyphs" stroke="#1e88c8" stroke-width="0.08">NAD(P)</text>
<line x1="596.5" y1="136.2" x2="599.2" y2="136.2" stroke="#1e88c8" stroke-width="0.7"/>
<line x1="597.9" y1="134.8" x2="597.9" y2="137.5" stroke="#1e88c8" stroke-width="0.7"/>
<path d="M426.2,116 C421.5,119.5 420.3,123 420.6,125.5 C421,130.5 425,134.6 431.5,135.4" fill="none" stroke="#1e88c8" stroke-width="1.9" stroke-linecap="round"/>
<path d="M430.2,132.6 L436.6,135.6 L430.2,138.4 L431.6,135.5 Z" fill="#1e88c8"/>
<g transform="translate(0,0)">
<path d="M467.3,116.3 C472.5,117 476.8,120.5 476.9,125.5 C477,130 474.5,133.5 471.4,135.6" fill="none" stroke="#1e88c8" stroke-width="1.9" stroke-linecap="round"/>
<path d="M468.2,113.2 L461.5,116.1 L468.2,119.0 L466.9,116.2 Z" fill="#1e88c8"/>
<path d="M484.7,116 C481.5,118.5 478.6,121.5 478.7,125.7 C478.8,131.5 483,135 489.5,135.7" fill="none" stroke="#1e88c8" stroke-width="1.9" stroke-linecap="round"/>
<path d="M488.4,132.9 L495,136 L488.4,138.9 L489.8,135.8 Z" fill="#1e88c8"/>
</g>
<g transform="translate(59.2,0)">
<path d="M467.3,116.3 C472.5,117 476.8,120.5 476.9,125.5 C477,130 474.5,133.5 471.4,135.6" fill="none" stroke="#1e88c8" stroke-width="1.9" stroke-linecap="round"/>
<path d="M468.2,113.2 L461.5,116.1 L468.2,119.0 L466.9,116.2 Z" fill="#1e88c8"/>
<path d="M484.7,116 C481.5,118.5 478.6,121.5 478.7,125.7 C478.8,131.5 483,135 489.5,135.7" fill="none" stroke="#1e88c8" stroke-width="1.9" stroke-linecap="round"/>
<path d="M488.4,132.9 L495,136 L488.4,138.9 L489.8,135.8 Z" fill="#1e88c8"/>
</g>
</g>
<g clip-path="url(#ec)" transform="translate(465,30.8)"><use href="#pk"/></g>
<ellipse cx="465" cy="30.8" rx="33.1" ry="16.5" fill="none" stroke="#a8a8a8" stroke-width="0.9"/>
<circle cx="506.5" cy="28.5" r="0.9" fill="#444"/><circle cx="506.5" cy="32.8" r="0.9" fill="#444"/>
<path d="M545.00,22.29 L542.80,17.89 L547.93,12.03 L554.53,14.96 L553.80,20.53" fill="none" stroke="#4a4a4a" stroke-width="0.8" stroke-linejoin="round"/>
<path d="M550.13,22.29 L545.00,22.29" fill="none" stroke="#4a4a4a" stroke-width="0.8" stroke-linejoin="round"/>
<path d="M548.96,13.64 L553.36,15.69" fill="none" stroke="#4a4a4a" stroke-width="0.8" stroke-linejoin="round"/>
<path d="M544.12,18.77 L545.59,21.41" fill="none" stroke="#4a4a4a" stroke-width="0.8" stroke-linejoin="round"/>
<path d="M547.20,12.03 L547.20,5.13" fill="none" stroke="#4a4a4a" stroke-width="0.8" stroke-linejoin="round"/>
<path d="M554.53,14.96 L561.13,11.73 L567.73,14.67" fill="none" stroke="#4a4a4a" stroke-width="0.8" stroke-linejoin="round"/>
<path d="M555.71,14.37 L561.13,12.91 L566.56,14.08" fill="none" stroke="#4a4a4a" stroke-width="0.8" stroke-linejoin="round"/>
<path d="M542.80,17.89 L536.20,15.84 L534.00,9.53 L526.67,8.07" fill="none" stroke="#4a4a4a" stroke-width="0.8" stroke-linejoin="round"/>
<path d="M526.67,8.07 L524.03,3.23" fill="none" stroke="#4a4a4a" stroke-width="0.8" stroke-linejoin="round"/>
<path d="M527.84,7.63 L525.20,2.93" fill="none" stroke="#4a4a4a" stroke-width="0.8" stroke-linejoin="round"/>
<path d="M526.67,8.07 L523.00,13.49" fill="none" stroke="#4a4a4a" stroke-width="0.8" stroke-linejoin="round"/>
<text x="523.73" y="3.85" font-size="5.2" fill="#444" text-anchor="middle">O</text>
<text x="519.63" y="16.17" font-size="5.2" fill="#444" text-anchor="middle">HO</text>
<text x="553.80" y="24.39" font-size="5.2" fill="#444" text-anchor="middle">NH</text>
<path d="M567.73,14.67 L575.07,11.73 L578.74,16.13 L577.27,22.73 L571.40,22.73" fill="none" stroke="#4a4a4a" stroke-width="0.8" stroke-linejoin="round"/>
<path d="M567.73,14.67 L569.20,20.53" fill="none" stroke="#4a4a4a" stroke-width="0.8" stroke-linejoin="round"/>
<path d="M575.36,13.20 L577.71,16.43" fill="none" stroke="#4a4a4a" stroke-width="0.8" stroke-linejoin="round"/>
<path d="M575.07,11.73 L575.36,5.13" fill="none" stroke="#4a4a4a" stroke-width="0.8" stroke-linejoin="round"/>
<path d="M578.74,16.13 L584.60,13.93 L588.27,9.09" fill="none" stroke="#4a4a4a" stroke-width="0.8" stroke-linejoin="round"/>
<path d="M585.63,14.67 L589.00,9.97" fill="none" stroke="#4a4a4a" stroke-width="0.8" stroke-linejoin="round"/>
<text x="569.49" y="24.68" font-size="5.2" fill="#444" text-anchor="middle">N</text>
<path d="M577.27,22.73 L578.74,30.80 L575.80,36.67" fill="none" stroke="#4a4a4a" stroke-width="0.8" stroke-linejoin="round"/>
<path d="M577.56,30.80 L575.36,35.93" fill="none" stroke="#4a4a4a" stroke-width="0.8" stroke-linejoin="round"/>
<path d="M575.80,36.67 L579.47,43.27 L575.07,47.67 L568.47,44.73 L567.73,40.33" fill="none" stroke="#4a4a4a" stroke-width="0.8" stroke-linejoin="round"/>
<path d="M575.80,36.67 L569.93,38.43" fill="none" stroke="#4a4a4a" stroke-width="0.8" stroke-linejoin="round"/>
<path d="M578.30,43.41 L574.78,46.35" fill="none" stroke="#4a4a4a" stroke-width="0.8" stroke-linejoin="round"/>
<path d="M579.47,43.27 L585.34,43.56" fill="none" stroke="#4a4a4a" stroke-width="0.8" stroke-linejoin="round"/>
<path d="M575.07,47.67 L576.54,54.27 L582.40,56.47" fill="none" stroke="#4a4a4a" stroke-width="0.8" stroke-linejoin="round"/>
<path d="M577.71,53.53 L582.99,55.29" fill="none" stroke="#4a4a4a" stroke-width="0.8" stroke-linejoin="round"/>
<text x="566.56" y="40.23" font-size="5.2" fill="#444" text-anchor="middle">HN</text>
<path d="M568.47,44.73 L561.13,47.67 L553.07,44.00" fill="none" stroke="#4a4a4a" stroke-width="0.8" stroke-linejoin="round"/>
<path d="M567.44,45.76 L561.13,46.64" fill="none" stroke="#4a4a4a" stroke-width="0.8" stroke-linejoin="round"/>
<path d="M551.31,37.84 L545.00,36.67 L542.80,43.27 L547.93,47.67 L553.07,44.00 L553.36,40.33" fill="none" stroke="#4a4a4a" stroke-width="0.8" stroke-linejoin="round"/>
<path d="M543.97,42.97 L547.93,46.35" fill="none" stroke="#4a4a4a" stroke-width="0.8" stroke-linejoin="round"/>
<path d="M547.93,47.67 L547.20,55.44" fill="none" stroke="#4a4a4a" stroke-width="0.8" stroke-linejoin="round"/>
<path d="M545.00,36.67 L542.80,30.80 L545.00,22.29" fill="none" stroke="#4a4a4a" stroke-width="0.8" stroke-linejoin="round"/>
<path d="M543.97,30.80 L545.73,23.47" fill="none" stroke="#4a4a4a" stroke-width="0.8" stroke-linejoin="round"/>
<path d="M542.80,43.27 L536.20,44.00 L534.00,49.87 L526.67,52.07" fill="none" stroke="#4a4a4a" stroke-width="0.8" stroke-linejoin="round"/>
<path d="M526.67,52.07 L524.03,57.49" fill="none" stroke="#4a4a4a" stroke-width="0.8" stroke-linejoin="round"/>
<path d="M527.84,52.51 L525.20,57.93" fill="none" stroke="#4a4a4a" stroke-width="0.8" stroke-linejoin="round"/>
<path d="M526.67,52.07 L523.00,47.67" fill="none" stroke="#4a4a4a" stroke-width="0.8" stroke-linejoin="round"/>
<text x="523.73" y="61.20" font-size="5.2" fill="#444" text-anchor="middle">O</text>
<text x="519.63" y="49.47" font-size="5.2" fill="#444" text-anchor="middle">HO</text>
<text x="553.36" y="40.23" font-size="5.2" fill="#444" text-anchor="middle">N</text>
</svg></body></html>
